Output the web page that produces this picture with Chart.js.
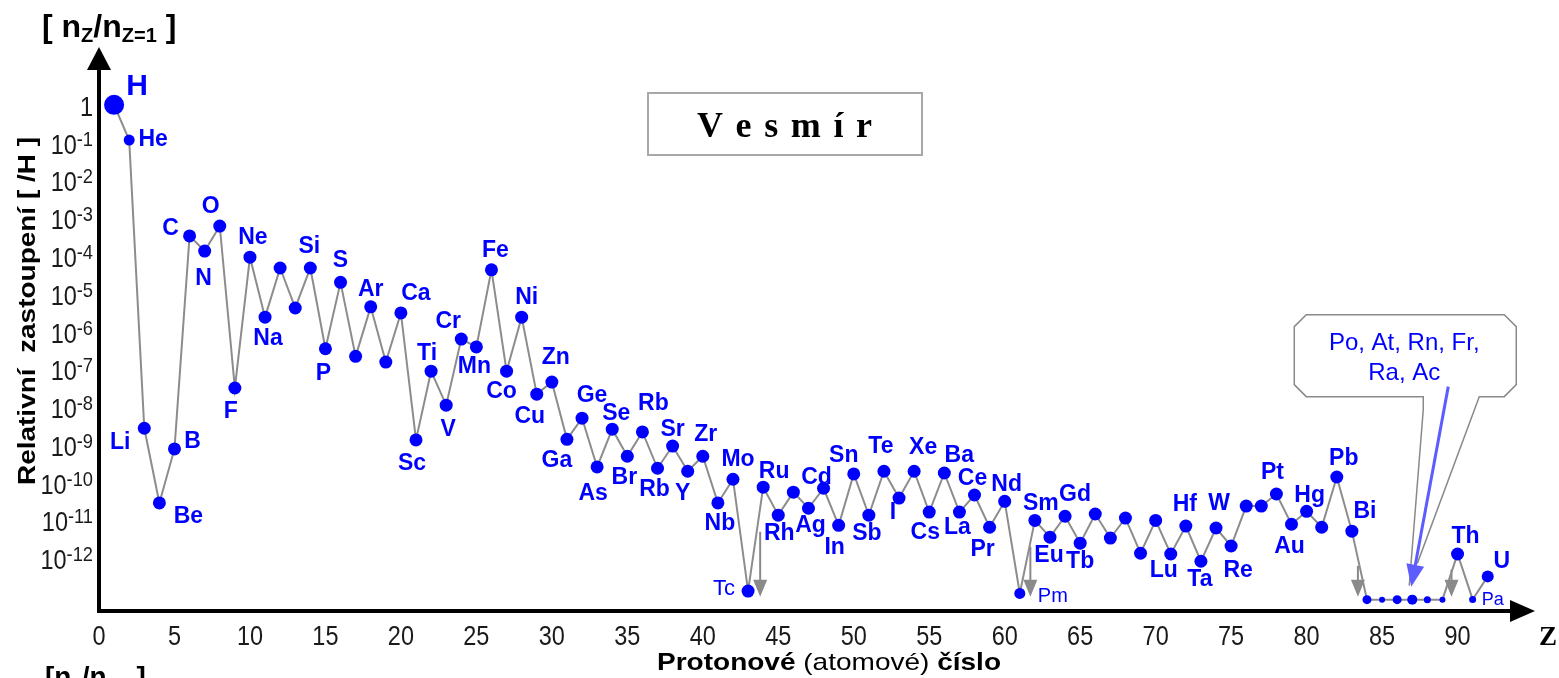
<!DOCTYPE html>
<html lang="cs">
<head>
<meta charset="UTF-8">
<title>Vesmír – relativní zastoupení prvků</title>
<script src="https://cdn.jsdelivr.net/npm/chart.js@4"></script>
<style>
  html, body { margin: 0; padding: 0; background: #fff; }
  #wrap { width: 1559px; height: 678px; }
</style>
</head>
<body>
<div id="wrap"><canvas id="chart" width="1559" height="678"></canvas></div>
<script>
// prvky v pořadí protonového čísla (Z = index + 1)
const symbols = ['H','He','Li','Be','B','C','N','O','F','Ne','Na','Mg','Al','Si','P','S','Cl','Ar','K','Ca',
  'Sc','Ti','V','Cr','Mn','Fe','Co','Ni','Cu','Zn','Ga','Ge','As','Se','Br','Kr','Rb','Sr','Y','Zr',
  'Nb','Mo','Tc','Ru','Rh','Pd','Ag','Cd','In','Sn','Sb','Te','I','Xe','Cs','Ba','La','Ce','Pr','Nd',
  'Pm','Sm','Eu','Gd','Tb','Dy','Ho','Er','Tm','Yb','Lu','Hf','Ta','W','Re','Os','Ir','Pt','Au','Hg',
  'Tl','Pb','Bi','Po','At','Rn','Fr','Ra','Ac','Th','Pa','U'];
const protonNumber = symbols.map((s, i) => i + 1);

// relativni zastoupeni n_Z / n_H
const abundance = [
  1, 0.117, 2.75e-9, 2.9e-11, 7.8e-10, 3.4e-4, 1.35e-4, 6.2e-4, 3.2e-8, 9.3e-5,
  2.4e-6, 4.8e-5, 4.2e-6, 4.8e-5, 3.5e-7, 2.0e-5, 2.2e-7, 4.5e-6, 1.55e-7, 3.1e-6,
  1.35e-9, 8.9e-8, 1.12e-8, 6.3e-7, 3.9e-7, 4.3e-5, 8.9e-8, 2.4e-6, 2.2e-8, 4.6e-8,
  1.4e-9, 5.1e-9, 2.6e-10, 2.6e-9, 5.0e-10, 2.2e-9, 2.4e-10, 9.3e-10, 2.0e-10, 5.0e-10,
  2.9e-11, 1.23e-10, 1.35e-13, 7.6e-11, 1.38e-11, 5.6e-11, 2.1e-11, 7.1e-11, 7.4e-12, 1.7e-10,
  1.38e-11, 2.0e-10, 3.9e-11, 2.0e-10, 1.66e-11, 1.8e-10, 1.66e-11, 4.7e-11, 6.6e-12, 3.2e-11,
  1.17e-13, 1.0e-11, 3.6e-12, 1.29e-11, 2.5e-12, 1.48e-11, 3.4e-12, 1.15e-11, 1.35e-12, 1.0e-11,
  1.29e-12, 7.1e-12, 8.3e-13, 6.3e-12, 2.1e-12, 2.4e-11, 2.4e-11, 5.0e-11, 7.9e-12, 1.74e-11,
  6.6e-12, 1.41e-10, 5.2e-12, 8e-14, 8e-14, 8e-14, 8e-14, 8e-14, 8e-14, 1.29e-12,
  8.1e-14, 3.3e-13
];

const yTicks = [1, 1e-1, 1e-2, 1e-3, 1e-4, 1e-5, 1e-6, 1e-7, 1e-8, 1e-9, 1e-10, 1e-11, 1e-12];
const xTicks = [0, 5, 10, 15, 20, 25, 30, 35, 40, 45, 50, 55, 60, 65, 70, 75, 80, 85, 90];

// sede sipky "nestabilni"
const arrowZ = [43.8, 61.7, 83.4, 89.6];
const arrowTop = [5e-12, 2e-12, 6.3e-13, 5e-13];
const arrowBottom = 9.5e-14;

// text popisku, kde se lisi od symbolu (v originale u Kr stoji "Rb")
const labelText = { Kr: 'Rb' };

// umisteni popisku vuci bodu [dx, dy]
const labelPos = {
  H: [23, -21], He: [24, -2], Li: [-24, 12], Be: [29, 12], B: [18, -9], C: [-19, -9], N: [-1, 26],
  O: [-9, -21], F: [-4, 22], Ne: [3, -21], Na: [3, 20], Si: [-1, -23], P: [-2, 23], S: [0, -24],
  Ar: [0, -19], Ca: [15, -21], Sc: [-4, 22], Ti: [-4, -19], V: [2, 23], Cr: [-13, -19], Mn: [-2, 18],
  Fe: [4, -21], Co: [-5, 19], Ni: [5, -21], Cu: [-7, 21], Zn: [4, -26], Ga: [-10, 19], Ge: [10, -24],
  As: [-4, 25], Se: [4, -17], Br: [-3, 19], Kr: [11, -30], Rb: [-3, 19], Sr: [0, -18], Y: [-5, 20],
  Zr: [3, -24], Nb: [2, 19], Mo: [5, -22], Tc: [-13, -4], Ru: [11, -17], Rh: [1, 17], Ag: [2, 15],
  Cd: [-7, -13], In: [-4, 20], Sn: [-10, -20], Sb: [-2, 17], Te: [-3, -27], I: [-6, 13], Xe: [9, -26],
  Cs: [-4, 19], Ba: [15, -19], La: [-2, 14], Ce: [-2, -18], Pr: [-7, 20], Nd: [2, -19], Pm: [18, 1],
  Sm: [6, -19], Eu: [-1, 17], Gd: [10, -24], Tb: [0, 17], Lu: [-7, 15], Hf: [-1, -23], Ta: [-1, 16],
  W: [3, -26], Re: [7, 23], Pt: [-4, -23], Au: [-2, 20], Hg: [3, -18], Pb: [7, -20], Bi: [13, -21],
  Th: [8, -19], U: [14, -17], Pa: [9, -1]
};
const labelFont = { H: ['bold', 30], Tc: ['normal', 22], Pm: ['normal', 20], Pa: ['normal', 18] };
const labelAlign = { Tc: 'right', Pm: 'left', Pa: 'left' };

const pointSize = { H: 10, He: 5.5, Pm: 5.5, Po: 4.5, At: 3, Rn: 4.5, Fr: 5, Ra: 3.5, Ac: 3, Pa: 3.5, U: 6 };

const BLUE = '#0000ff';
const SANS = '"Liberation Sans", Arial, sans-serif';
const SERIF = '"Liberation Serif", "Times New Roman", serif';

function squeezed(ctx, text, x, y, font, align, sx) {
  ctx.save();
  ctx.translate(x, y);
  ctx.scale(sx, 1);
  ctx.font = font;
  ctx.textAlign = align;
  ctx.textBaseline = 'alphabetic';
  ctx.fillText(text, 0, 0);
  ctx.restore();
}

function runs(ctx, parts, x, y) {
  // parts: [text, font, dy]
  let cx = x;
  parts.forEach(p => {
    ctx.font = p[1];
    ctx.textAlign = 'left';
    ctx.fillText(p[0], cx, y + (p[2] || 0));
    cx += ctx.measureText(p[0]).width;
  });
}

const decor = {
  id: 'decor',
  beforeDatasetsDraw(chart) {
    const { ctx, scales: { x, y } } = chart;
    ctx.save();
    ctx.strokeStyle = '#8a8a8a';
    ctx.fillStyle = '#8a8a8a';
    ctx.lineWidth = 2;
    arrowZ.forEach((z, i) => {
      const px = x.getPixelForValue(z);
      const top = y.getPixelForValue(arrowTop[i]);
      const tip = y.getPixelForValue(arrowBottom);
      ctx.beginPath();
      ctx.moveTo(px, top);
      ctx.lineTo(px, tip - 10);
      ctx.stroke();
      ctx.beginPath();
      ctx.moveTo(px - 7, tip - 17);
      ctx.lineTo(px + 7, tip - 17);
      ctx.lineTo(px, tip);
      ctx.closePath();
      ctx.fill();
    });
    ctx.restore();
  },
  afterDraw(chart) {
    const { ctx, chartArea: a, scales: { x, y } } = chart;
    ctx.save();

    // popisky prvku
    const meta = chart.getDatasetMeta(0);
    meta.data.forEach((pt, i) => {
      const s = symbols[i];
      const pos = labelPos[s];
      if (!pos) return;
      const f = labelFont[s] || ['bold', 23];
      ctx.font = f[0] + ' ' + f[1] + 'px ' + SANS;
      ctx.fillStyle = BLUE;
      ctx.textAlign = labelAlign[s] || 'center';
      ctx.textBaseline = 'alphabetic';
      ctx.fillText(labelText[s] || s, pt.x + pos[0], pt.y + pos[1] + f[1] * 0.36);
    });

    // osy
    ctx.strokeStyle = '#000';
    ctx.fillStyle = '#000';
    ctx.lineWidth = 4;
    ctx.beginPath();
    ctx.moveTo(a.left, a.top + 20);
    ctx.lineTo(a.left, a.bottom);
    ctx.lineTo(a.right - 14, a.bottom);
    ctx.stroke();
    ctx.beginPath();
    ctx.moveTo(a.left, a.top);
    ctx.lineTo(a.left - 12, a.top + 23);
    ctx.lineTo(a.left + 12, a.top + 23);
    ctx.closePath();
    ctx.fill();
    ctx.beginPath();
    ctx.moveTo(a.right + 5, a.bottom);
    ctx.lineTo(a.right - 20, a.bottom - 11);
    ctx.lineTo(a.right - 20, a.bottom + 11);
    ctx.closePath();
    ctx.fill();

    // popisky os y
    ctx.fillStyle = '#1a1a1a';
    yTicks.forEach(v => {
      const py = y.getPixelForValue(v);
      const e = Math.round(Math.log10(v));
      const base = py + 11;
      if (e === 0) {
        squeezed(ctx, '1', 93, base, '27px ' + SANS, 'right', 0.87);
      } else {
        const es = String(e);
        ctx.font = '21px ' + SANS;
        const ew = ctx.measureText(es).width * 0.87;
        squeezed(ctx, es, 93, base - 8, '21px ' + SANS, 'right', 0.87);
        squeezed(ctx, '10', 93 - ew, base, '27px ' + SANS, 'right', 0.87);
      }
    });
    xTicks.forEach(v => {
      squeezed(ctx, String(v), x.getPixelForValue(v), a.bottom + 34, '27px ' + SANS, 'center', 0.87);
    });

    // nazvy os
    ctx.fillStyle = '#000';
    ctx.save();
    ctx.translate(35, 311);
    ctx.rotate(-Math.PI / 2);
    ctx.font = 'bold 24px ' + SANS;
    const yt = 'Relativní  zastoupení [ /H ]';
    const yw = ctx.measureText(yt).width;
    ctx.scale(348 / yw, 1);
    ctx.textAlign = 'center';
    ctx.fillText(yt, 0, 0);
    ctx.restore();

    const xParts = [['Protonové ', 'bold 24px ' + SANS], ['(atomové) ', '24px ' + SANS], ['číslo', 'bold 24px ' + SANS]];
    let xw = 0;
    xParts.forEach(p => { ctx.font = p[1]; xw += ctx.measureText(p[0]).width; });
    ctx.save();
    ctx.translate(829 - 172, 670);
    ctx.scale(344 / xw, 1);
    runs(ctx, xParts, 0, 0);
    ctx.restore();

    ctx.font = 'bold 27px ' + SERIF;
    ctx.textAlign = 'center';
    ctx.fillText('Z', 1548, 645);

    const big = 'bold 32px ' + SANS, sub = 'bold 20px ' + SANS;
    runs(ctx, [['[ ', big], ['n', big], ['Z', sub, 5], ['/', big], ['n', big], ['Z=1', sub, 5], [' ]', big]], 42, 37);
    const big2 = 'bold 28px ' + SANS, sub2 = 'bold 17px ' + SANS;
    runs(ctx, [['[', big2], ['n', big2], ['Z', sub2, 5], ['/', big2], ['n', big2], ['Z=1', sub2, 5], [']', big2]], 45, 686);

    // ramecek s nazvem
    ctx.strokeStyle = '#a8a8a8';
    ctx.lineWidth = 2;
    ctx.strokeRect(648, 93, 274, 62);
    ctx.font = 'bold 36px ' + SERIF;
    ctx.fillStyle = '#000';
    ctx.textAlign = 'left';
    const word = 'Vesmír'.split('');
    const cw = word.map(c => ctx.measureText(c).width);
    const gap = (175 - cw.reduce((s, w) => s + w, 0)) / (word.length - 1);
    let cx = 697;
    word.forEach((c, i) => { ctx.fillText(c, cx, 137); cx += cw[i] + gap; });

    // bublina u Po..Ac
    const ax = x.getPixelForValue(87);
    const ay = y.getPixelForValue(abundance[86]);
    ctx.strokeStyle = '#8a8a8a';
    ctx.lineWidth = 1.5;
    const L = ax - 118, R = ax + 104, T = ay - 285, B = ay - 203, c = 12;
    ctx.beginPath();
    ctx.moveTo(ax - 3, ay - 14);
    ctx.lineTo(ax + 11, B + 13);
    ctx.lineTo(ax + 11, B);
    ctx.lineTo(L + c, B);
    ctx.lineTo(L, B - c);
    ctx.lineTo(L, T + c);
    ctx.lineTo(L + c, T);
    ctx.lineTo(R - c, T);
    ctx.lineTo(R, T + c);
    ctx.lineTo(R, B - c);
    ctx.lineTo(R - c, B);
    ctx.lineTo(ax + 67, B);
    ctx.lineTo(ax + 5, ay - 36);
    ctx.stroke();

    ctx.fillStyle = BLUE;
    ctx.font = '24px ' + SANS;
    ctx.textAlign = 'center';
    ctx.fillText('Po, At, Rn, Fr,', ax - 8, T + 35);
    ctx.fillText('Ra, Ac', ax - 8, T + 65);

    // modra sipka
    const sx0 = ax + 36, sy0 = B - 10, tx = ax - 1, ty = ay - 13;
    const dx = tx - sx0, dy = ty - sy0, len = Math.hypot(dx, dy), ux = dx / len, uy = dy / len;
    ctx.strokeStyle = '#5c5cff';
    ctx.fillStyle = '#5c5cff';
    ctx.lineWidth = 3;
    ctx.beginPath();
    ctx.moveTo(sx0, sy0);
    ctx.lineTo(tx - ux * 18, ty - uy * 18);
    ctx.stroke();
    ctx.beginPath();
    ctx.moveTo(tx, ty);
    ctx.lineTo(tx - ux * 22 - uy * 9, ty - uy * 22 + ux * 9);
    ctx.lineTo(tx - ux * 22 + uy * 9, ty - uy * 22 - ux * 9);
    ctx.closePath();
    ctx.fill();

    ctx.restore();
  }
};

new Chart(document.getElementById('chart'), {
  type: 'line',
  data: {
    datasets: [{
      label: 'Vesmír',
      data: protonNumber.map((z, i) => ({ x: z, y: abundance[i] })),
      borderColor: '#8c8c8c',
      borderWidth: 2,
      tension: 0,
      pointBackgroundColor: BLUE,
      pointBorderColor: BLUE,
      pointBorderWidth: 0,
      pointRadius: ctx => pointSize[symbols[ctx.dataIndex]] || 6.5,
      clip: false
    }]
  },
  options: {
    responsive: false,
    animation: false,
    devicePixelRatio: 1,
    layout: { padding: { left: 99, right: 29, top: 47, bottom: 67 } },
    scales: {
      x: { type: 'linear', min: 0, max: 94.8, display: false },
      y: { type: 'logarithmic', min: 4e-14, max: 34, display: false }
    },
    plugins: {
      legend: { display: false },
      tooltip: { enabled: false }
    }
  },
  plugins: [decor]
});
</script>
</body>
</html>
